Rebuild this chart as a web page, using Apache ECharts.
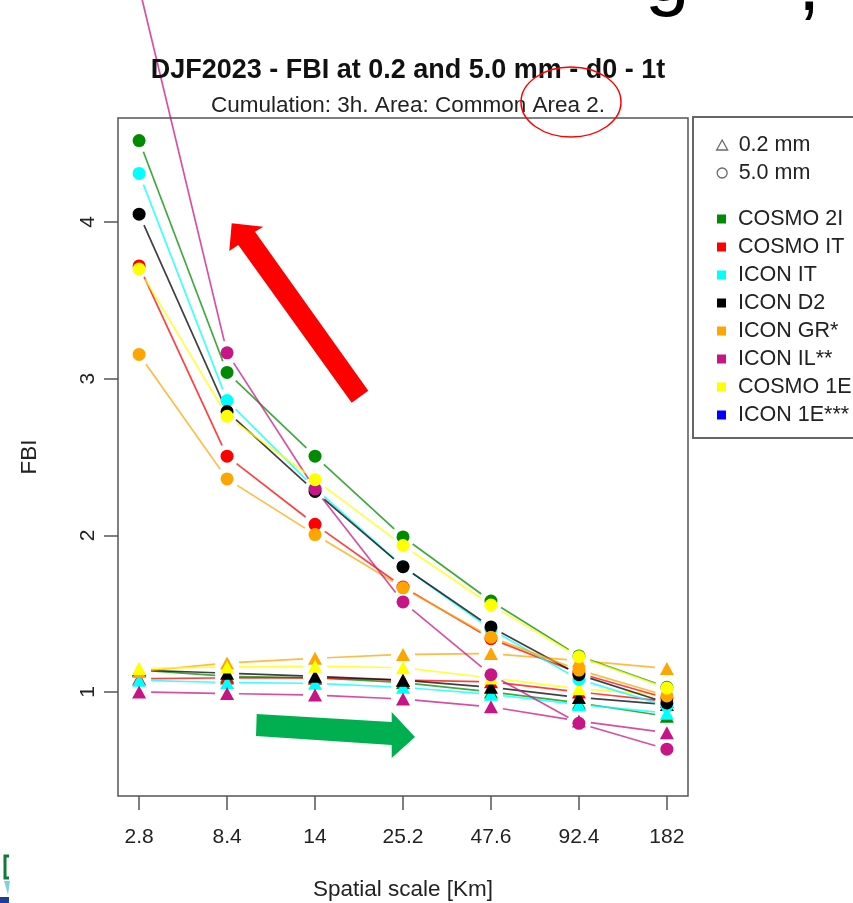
<!DOCTYPE html>
<html>
<head>
<meta charset="utf-8">
<script src="https://cdn.jsdelivr.net/npm/echarts@6/dist/echarts.min.js"></script>
<style>
  html, body { margin: 0; padding: 0; background: #fff; }
  #chart { width: 853px; height: 903px; }
</style>
</head>
<body>
<div id="chart"></div>
<script>
// Spatial scales (km) on the x axis, one column per scale
const scaleLabels = ['2.8', '8.4', '14', '25.2', '47.6', '92.4', '182'];
const yTicks = [1, 2, 3, 4];

const models = ['COSMO 2I', 'COSMO IT', 'ICON IT', 'ICON D2', 'ICON GR*', 'ICON IL**', 'COSMO 1E', 'ICON 1E***'];
const modelColors = ['#008B00', '#FF0000', '#00FFFF', '#000000', '#FFA500', '#C71585', '#FFFF00', '#0000FF'];

// FBI, 5.0 mm threshold
const cosmo2I_5mm = [4.52, 3.04, 2.505, 1.99, 1.58, 1.23, 1.03];
const cosmoIT_5mm = [3.72, 2.505, 2.07, 1.67, 1.34, 1.12, 0.96];
const iconIT_5mm  = [4.31, 2.86, 2.30, 1.80, 1.40, 1.08, 0.91];
const iconD2_5mm  = [4.05, 2.79, 2.28, 1.80, 1.415, 1.11, 0.93];
const iconGR_5mm  = [3.155, 2.36, 2.005, 1.665, 1.35, 1.14, 0.975];
const iconIL_5mm  = [5.5, 3.165, 2.295, 1.575, 1.11, 0.80, 0.635];
const cosmo1E_5mm = [3.70, 2.76, 2.355, 1.935, 1.555, 1.225, 1.025];
const icon1E_5mm  = [null, null, null, null, null, null, null];

// FBI, 0.2 mm threshold
const cosmo2I_02mm = [1.14, 1.10, 1.09, 1.06, 1.00, 0.93, 0.845];
const cosmoIT_02mm = [1.085, 1.09, 1.09, 1.075, 1.065, 1.00, 0.94];
const iconIT_02mm  = [1.075, 1.06, 1.055, 1.03, 0.985, 0.92, 0.865];
const iconD2_02mm  = [1.14, 1.12, 1.10, 1.075, 1.03, 0.965, 0.92];
const iconGR_02mm  = [1.13, 1.185, 1.215, 1.24, 1.245, 1.20, 1.15];
const iconIL_02mm  = [1.00, 0.99, 0.98, 0.955, 0.905, 0.815, 0.74];
const cosmo1E_02mm = [1.15, 1.16, 1.165, 1.155, 1.09, 1.02, 0.98];
const icon1E_02mm  = [null, null, null, null, null, null, null];

const fbi5mm  = [cosmo2I_5mm, cosmoIT_5mm, iconIT_5mm, iconD2_5mm, iconGR_5mm, iconIL_5mm, cosmo1E_5mm, icon1E_5mm];
const fbi02mm = [cosmo2I_02mm, cosmoIT_02mm, iconIT_02mm, iconD2_02mm, iconGR_02mm, iconIL_02mm, cosmo1E_02mm, icon1E_02mm];

const FONT = 'Liberation Sans, Arial, Helvetica, sans-serif';
const GAP = 12; // px left free around each point, like type="b" in R

function pointsOf(vals) {
  const out = [];
  vals.forEach((v, i) => { if (v != null) out.push([i, v]); });
  return out;
}
function segmentsOf(vals) {
  const out = [];
  for (let i = 0; i < vals.length - 1; i++) {
    if (vals[i] != null && vals[i + 1] != null) out.push([i, vals[i], i + 1, vals[i + 1]]);
  }
  return out;
}
function segmentRenderer(color) {
  return function (params, api) {
    const a = api.coord([api.value(0), api.value(1)]);
    const b = api.coord([api.value(2), api.value(3)]);
    const dx = b[0] - a[0], dy = b[1] - a[1];
    const d = Math.hypot(dx, dy);
    if (d <= 2 * GAP) return { type: 'group', children: [] };
    const ux = dx / d, uy = dy / d;
    return {
      type: 'line',
      shape: { x1: a[0] + ux * GAP, y1: a[1] + uy * GAP, x2: b[0] - ux * GAP, y2: b[1] - uy * GAP },
      style: { stroke: color, lineWidth: 1.7, opacity: 0.75 }
    };
  };
}

const series = [];
function addThreshold(table, symbol, size) {
  models.forEach((name, k) => {
    const vals = table[k];
    const color = modelColors[k];
    series.push({
      type: 'custom', name, clip: false, silent: true,
      coordinateSystem: 'cartesian2d',
      encode: { x: [0, 2], y: [1, 3] },
      itemStyle: { color },
      data: segmentsOf(vals),
      renderItem: segmentRenderer(color)
    });
    series.push({
      type: 'scatter', name, symbol, symbolSize: size,
      itemStyle: { color, opacity: 1 },
      emphasis: { disabled: true },
      data: pointsOf(vals)
    });
  });
}
// 0.2 mm (triangles) first, 5.0 mm (circles) drawn on top
addThreshold(fbi02mm, 'triangle', [14, 13]);
addThreshold(fbi5mm, 'circle', 13);

// keys for the two thresholds
series.push({ type: 'scatter', name: '0.2 mm', data: [], itemStyle: { color: '#555' } });
series.push({ type: 'scatter', name: '5.0 mm', data: [], itemStyle: { color: '#555' } });

const chart = echarts.init(document.getElementById('chart'), null, { renderer: 'canvas' });

chart.setOption({
  backgroundColor: '#fff',
  animation: false,
  title: [
    {
      text: 'DJF2023 - FBI at 0.2 and 5.0 mm - d0 - 1t',
      left: 403, top: 52, textAlign: 'center',
      textStyle: { fontFamily: FONT, fontSize: 27, fontWeight: 'bold', color: '#111' }
    },
    {
      text: 'Cumulation: 3h. Area: Common Area 2.',
      left: 403, top: 89, textAlign: 'center',
      textStyle: { fontFamily: FONT, fontSize: 22.5, fontWeight: 'normal', color: '#222' }
    }
  ],
  grid: {
    left: 118, right: 165, top: 118, bottom: 107,
    outerBoundsMode: 'none', containLabel: false,
    show: true, borderColor: '#555', borderWidth: 1.5, backgroundColor: 'transparent'
  },
  xAxis: {
    type: 'value', min: -0.24, max: 6.24,
    name: 'Spatial scale [Km]', nameLocation: 'middle', nameGap: 82,
    nameTextStyle: { fontFamily: FONT, fontSize: 22.5, color: '#222' },
    axisLine: { show: false, onZero: false },
    splitLine: { show: false },
    axisTick: { show: true, inside: false, length: 14, customValues: [0, 1, 2, 3, 4, 5, 6], lineStyle: { color: '#555', width: 1.5 } },
    axisLabel: {
      customValues: [0, 1, 2, 3, 4, 5, 6], margin: 31,
      formatter: v => scaleLabels[Math.round(v)],
      fontFamily: FONT, fontSize: 21, color: '#222'
    }
  },
  yAxis: {
    type: 'value', min: 0.336, max: 4.664,
    name: 'FBI', nameLocation: 'middle', nameGap: 77, nameRotate: 90,
    nameTextStyle: { fontFamily: FONT, fontSize: 22.5, color: '#222' },
    axisLine: { show: false, onZero: false },
    splitLine: { show: false },
    axisTick: { show: true, inside: false, length: 14, customValues: yTicks, lineStyle: { color: '#555', width: 1.5 } },
    axisLabel: {
      customValues: yTicks, rotate: 90, margin: 19,
      fontFamily: FONT, fontSize: 21, color: '#222'
    }
  },
  legend: [
    {
      orient: 'vertical', left: 711, top: 128, itemGap: 4,
      itemWidth: 11, itemHeight: 10,
      textStyle: { fontFamily: FONT, fontSize: 21.5, lineHeight: 24, color: '#222', padding: [0, 0, 0, 6] },
      data: [
        { name: '0.2 mm', icon: 'triangle', itemStyle: { color: 'rgba(0,0,0,0)', borderColor: '#444', borderWidth: 1.3 } },
        { name: '5.0 mm', icon: 'circle', itemStyle: { color: 'rgba(0,0,0,0)', borderColor: '#444', borderWidth: 1.3 } }
      ]
    },
    {
      orient: 'vertical', left: 712, top: 202, itemGap: 4,
      itemWidth: 9, itemHeight: 9,
      textStyle: { fontFamily: FONT, fontSize: 21.5, lineHeight: 24, color: '#222', padding: [0, 0, 0, 7] },
      data: models.map(n => ({ name: n, icon: 'rect' }))
    }
  ],
  graphic: [
    // legend frame
    { type: 'rect', z: 0, shape: { x: 693, y: 117, width: 200, height: 321 }, style: { fill: 'none', stroke: '#666', lineWidth: 2 } },
    // highlight arrows
    {
      type: 'polygon', z: 50,
      shape: { points: [[231.7, 223.3], [263.3, 226.7], [255, 231.7], [368.3, 390.7], [351.7, 402.7], [238.3, 245], [229.3, 251]] },
      style: { fill: '#FF0000' }
    },
    {
      type: 'polygon', z: 50,
      shape: { points: [[256.7, 714], [391.7, 722], [391.7, 712], [415, 737], [391.7, 758], [391.7, 745], [256, 736]] },
      style: { fill: '#00B050' }
    },
    // ring around the area name
    { type: 'ellipse', z: 50, shape: { cx: 571, cy: 102, rx: 50, ry: 35 }, style: { fill: 'none', stroke: '#FF0000', lineWidth: 1.5 } },
    // slide heading above the figure
    { type: 'text', z: 50, style: { text: 'g', x: 645, y: -62, font: '80px ' + FONT, fill: '#000' } },
    { type: 'text', z: 50, style: { text: ',', x: 798, y: -52, font: '80px ' + FONT, fill: '#000' } },
    // logo edge
    { type: 'polyline', z: 50, shape: { points: [[9, 856], [5, 856], [5, 878], [9, 878]] }, style: { stroke: '#0B7A3B', lineWidth: 3, fill: 'none' } },
    { type: 'polygon', z: 50, shape: { points: [[4, 881], [10, 881], [8, 895]] }, style: { fill: '#7FD3D8' } },
    { type: 'rect', z: 50, shape: { x: 0, y: 897, width: 9, height: 6 }, style: { fill: '#1C3E93' } }
  ],
  series
});
</script>
</body>
</html>
